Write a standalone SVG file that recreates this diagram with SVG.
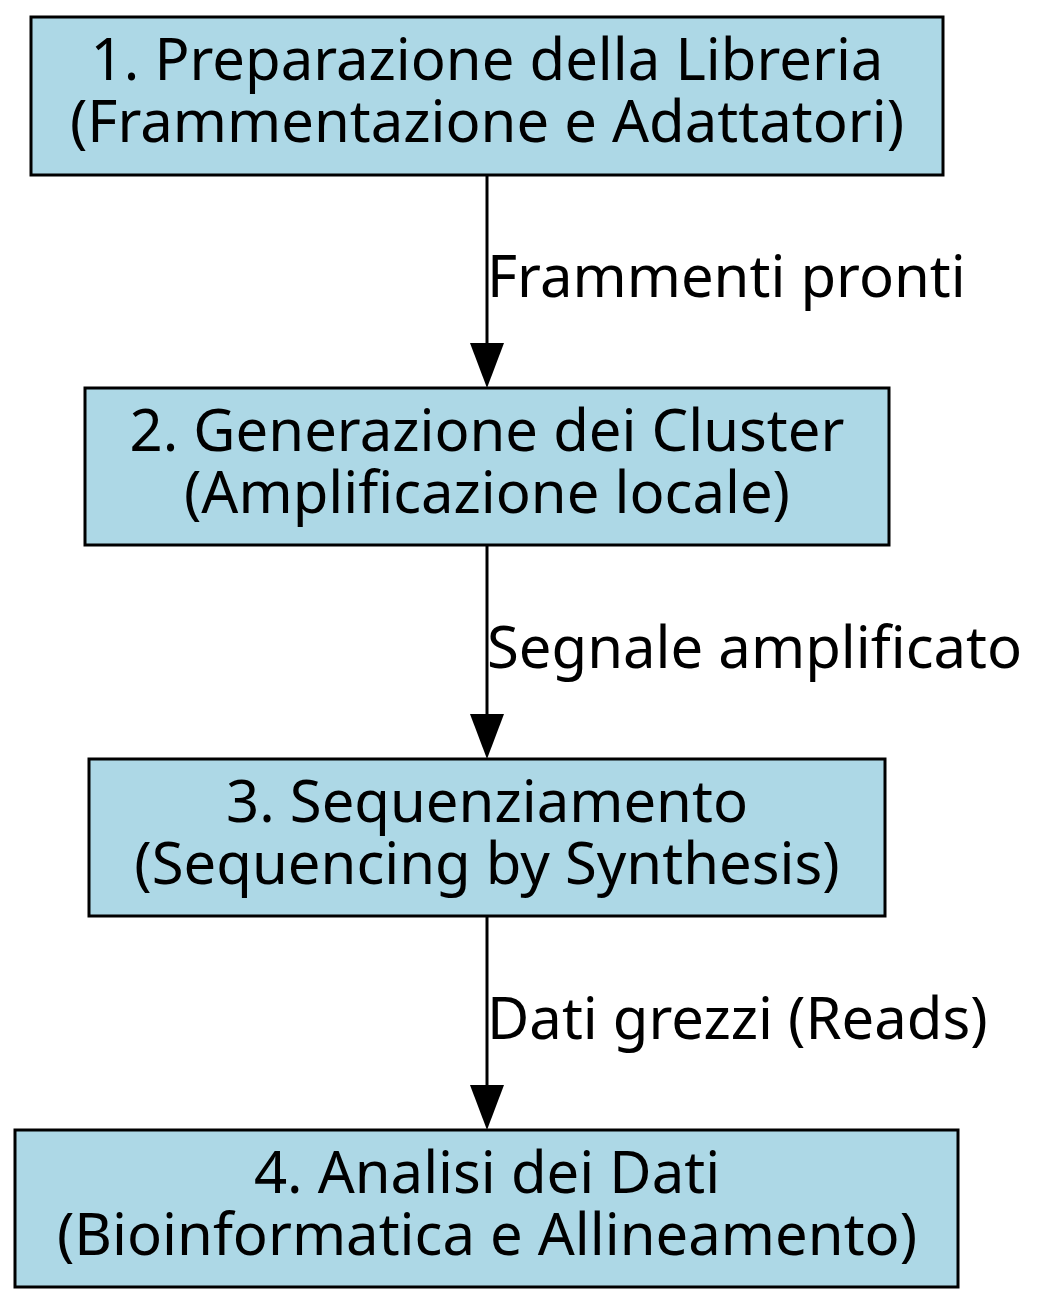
<svg xmlns="http://www.w3.org/2000/svg" width="1042" height="1304" viewBox="0 0 1042 1304">
<style>
.node rect{fill:#add8e6;stroke:#000;stroke-width:3}
.node text{font-family:"Noto Sans","Open Sans",sans-serif;font-size:58px;text-anchor:middle;fill:#000}
.lbl{font-family:"Noto Sans","Open Sans",sans-serif;font-size:58px;fill:#000}
.edge{stroke:#000;stroke-width:3;fill:none}
</style>
<rect width="1042" height="1304" fill="#fff"/>
<g id="connectors">
<path class="edge" d="M487,175 L487,343"/><path d="M470,343 L504,343 L487,388 Z" fill="#000"/>
<text class="lbl" x="487" y="297">Frammenti pronti</text>
<path class="edge" d="M487,545 L487,714"/><path d="M470,714 L504,714 L487,759 Z" fill="#000"/>
<text class="lbl" x="487" y="668">Segnale amplificato</text>
<path class="edge" d="M487,916 L487,1085"/><path d="M470,1085 L504,1085 L487,1130 Z" fill="#000"/>
<text class="lbl" x="487" y="1039">Dati grezzi (Reads)</text>
</g>
<g id="n1" class="node"><rect x="31" y="17" width="912" height="158"/><text x="487" y="80">1. Preparazione della Libreria</text><text x="487" y="142">(Frammentazione e Adattatori)</text></g>
<g id="n2" class="node"><rect x="85" y="388" width="804" height="157"/><text x="487" y="451">2. Generazione dei Cluster</text><text x="487" y="513">(Amplificazione locale)</text></g>
<g id="n3" class="node"><rect x="89" y="759" width="796" height="157"/><text x="487" y="822">3. Sequenziamento</text><text x="487" y="884">(Sequencing by Synthesis)</text></g>
<g id="n4" class="node"><rect x="15" y="1130" width="943" height="157"/><text x="487" y="1193">4. Analisi dei Dati</text><text x="487" y="1255">(Bioinformatica e Allineamento)</text></g>
</svg>
